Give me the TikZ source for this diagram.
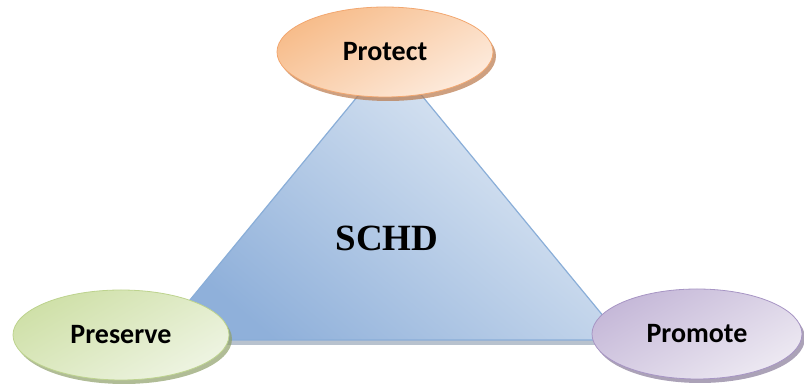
\documentclass[tikz,border=0pt]{standalone}
\usepackage{fontspec}
\newfontfamily\labfont{Carlito}
\newfontfamily\titfont{Liberation Serif}
\usetikzlibrary{shapes.geometric,shadows}
\definecolor{orA}{HTML}{F7BC8A}
\definecolor{orB}{HTML}{FDEBDD}
\definecolor{orD}{HTML}{F2A770}
\definecolor{orS}{HTML}{B9784A}
\definecolor{grA}{HTML}{CFE0A8}
\definecolor{grB}{HTML}{EEF4E2}
\definecolor{grD}{HTML}{BDD38E}
\definecolor{grS}{HTML}{8FA06A}
\definecolor{puA}{HTML}{C5B8D8}
\definecolor{puB}{HTML}{EDE9F2}
\definecolor{puD}{HTML}{A795C4}
\definecolor{puS}{HTML}{877A99}
\definecolor{blA}{HTML}{8FB0DA}
\definecolor{blB}{HTML}{E5EDF6}
\definecolor{blD}{HTML}{8AAED8}
\definecolor{blS}{HTML}{7E8FA6}
\tikzset{
  oval/.style={ellipse, minimum width=216pt, minimum height=90pt, inner sep=0pt,
    line width=0.8pt, font=\labfont\bfseries\fontsize{28}{32}\selectfont},
}
\begin{document}
\begin{tikzpicture}[x=1pt,y=1pt]
\useasboundingbox (0,0) rectangle (804,387);
% triangle
\coordinate (apex) at (390,330);
\coordinate (bl) at (157,47);
\coordinate (br) at (623,47);
\fill[blS, opacity=0.55] ([xshift=1pt,yshift=-5pt]bl) -- ([xshift=2pt,yshift=-5pt]br) -- ([xshift=2pt,yshift=-2pt]apex) -- cycle;
\shade[top color=blB, bottom color=blA, shading angle=-40] (apex) -- (br) -- (bl) -- cycle;
\draw[blD, line width=1.2pt, line join=round] (apex) -- (br) -- (bl) -- cycle;
\node[font=\titfont\bfseries\fontsize{37}{40}\selectfont] (schd) at (387,149) {SCHD};
% ovals
\node[oval, draw=orD, top color=orA, bottom color=orB, shading angle=30,
  drop shadow={shadow xshift=3pt, shadow yshift=-4pt, fill=orS, opacity=0.7}]
  (protect) at (385,335) {Protect};
\node[oval, draw=grD, top color=grA, bottom color=grB, shading angle=30,
  drop shadow={shadow xshift=3pt, shadow yshift=-4pt, fill=grS, opacity=0.7}]
  (preserve) at (121,52) {Preserve};
\node[oval, minimum width=210pt, draw=puD, top color=puA, bottom color=puB, shading angle=30,
  drop shadow={shadow xshift=3pt, shadow yshift=-4pt, fill=puS, opacity=0.7}]
  (promote) at (697,53) {Promote};
\end{tikzpicture}
\end{document}
